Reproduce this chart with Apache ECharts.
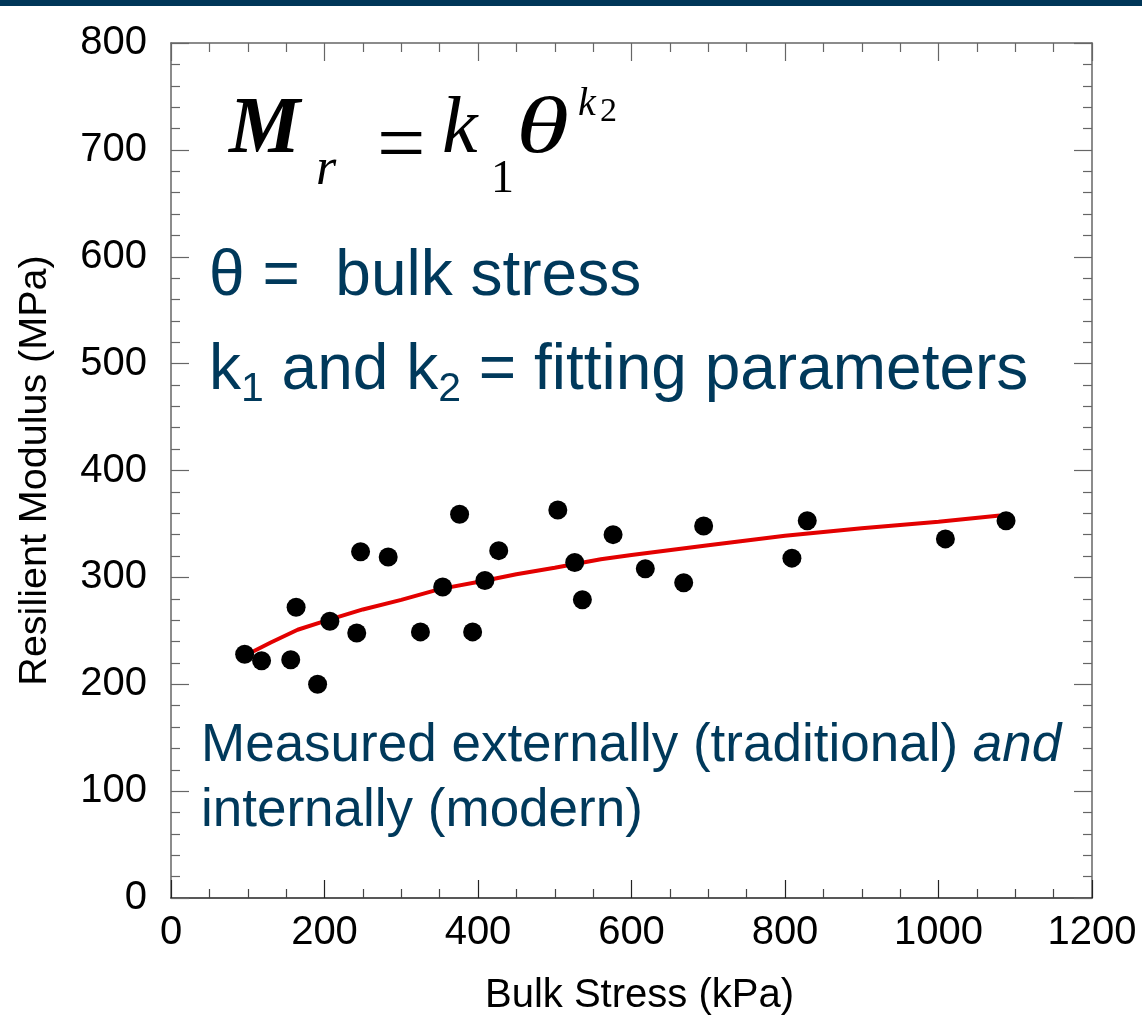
<!DOCTYPE html>
<html><head><meta charset="utf-8">
<script src="https://cdn.jsdelivr.net/npm/echarts@6/dist/echarts.min.js"></script>
<style>html,body{margin:0;padding:0;background:#fff}#c{width:1142px;height:1029px}</style>
</head><body><div id="c"></div>
<script>
// ---- data ----
const bulkStress = [96,118,156,163,191,207,242,247,283,325,354,376,393,409,427,504,526,536,576,618,668,694,809,829,1009,1088];
const resilientModulus = [228,222,223,272,200,259,248,324,319,249,291,359,249,297,325,363,314,279,340,308,295,348,318,353,336,353];
const fitStress = [105,130,165,200,250,300,350,410,450,500,560,600,700,800,900,1000,1080];
const fitModulus = [230,239,251,259,270,279,289,297,303,309,317,321,330,339,346,352,358];
const xRange = [0, 1200, 200];
const yRange = [0, 800, 100];
const xName = 'Bulk Stress (kPa)';
const yName = 'Resilient Modulus (MPa)';

// ---- build ----
const SANS = '"Liberation Sans", Arial, sans-serif';
const SERIF = '"Liberation Serif", "Times New Roman", serif';
const BLUE = '#00395B';
const scatterData = bulkStress.map((x, i) => [x, resilientModulus[i]]);
const fitData = fitStress.map((x, i) => [x, fitModulus[i]]);

function txt(t, x, baseline, size, family, opts) {
  opts = opts || {};
  const style = opts.style || 'normal', weight = opts.weight || 'normal';
  const mid = family === SERIF ? 0.3375 : 0.3465;
  const el = {
    type: 'text', x: x, y: baseline - mid * size, z: 100,
    style: {
      text: t, font: style + ' ' + weight + ' ' + size + 'px ' + family,
      fill: opts.color || BLUE, align: 'left', verticalAlign: 'middle',
      textAlign: 'left', textVerticalAlign: 'middle'
    }
  };
  if (opts.scaleX) el.scaleX = opts.scaleX;
  return el;
}
const mctx = document.createElement('canvas').getContext('2d');
function run(parts, x0, baseline) {
  let x = x0; const out = [];
  parts.forEach(p => {
    const st = p.style || 'normal', wt = p.weight || 'normal';
    mctx.font = st + ' ' + wt + ' ' + p.size + 'px ' + p.family;
    out.push(txt(p.t, x, baseline + (p.dy || 0), p.size, p.family, p));
    x += mctx.measureText(p.t).width;
  });
  return out;
}

const graphics = [
  { type: 'rect', shape: { x: 0, y: 0, width: 1142, height: 6 }, style: { fill: '#003658' }, z: 100 },
  // formula
  txt('M', 229, 158, 80, SERIF, { style: 'italic', weight: 'bold', color: '#000' }),
  txt('r', 316, 188, 52, SERIF, { style: 'italic', color: '#000' }),
  txt('=', 377, 178, 86, SERIF, { color: '#000' }),
  txt('k', 442, 158, 80, SERIF, { style: 'italic', color: '#000' }),
  txt('1', 491, 195, 46, SERIF, { color: '#000' }),
  txt('θ', 516, 158, 80, SERIF, { style: 'italic', color: '#000', scaleX: 1.35 }),
  txt('k', 578, 118, 40, SERIF, { style: 'italic', color: '#000' }),
  txt('2', 600, 124, 34, SERIF, { color: '#000' }),
  txt('θ =  bulk stress', 209, 300, 64, SANS)
].concat(run([
  { t: 'k', size: 64, family: SANS },
  { t: '1', size: 41, family: SANS, dy: 10 },
  { t: ' and k', size: 64, family: SANS },
  { t: '2', size: 41, family: SANS, dy: 10 },
  { t: ' = fitting parameters', size: 64, family: SANS }
], 209, 394)).concat(run([
  { t: 'Measured externally (traditional) ', size: 53, family: SANS },
  { t: 'and', size: 53, family: SANS, style: 'italic' }
], 201, 765)).concat([
  txt('internally (modern)', 201, 830, 53, SANS)
]);

const axisCommon = (color) => ({
  axisLine: { show: true, onZero: false, lineStyle: { color: color, width: 1.5 } },
  axisTick: { show: true, inside: true, length: 18, lineStyle: { color: color, width: 1.2 } },
  splitLine: { show: false }
});
const plain = v => String(v);

const chart = echarts.init(document.getElementById('c'), null, { renderer: 'canvas' });
chart.setOption({
  animation: false,
  backgroundColor: '#fff',
  grid: { left: 171, right: 50, top: 43, bottom: 131, containLabel: false },
  xAxis: [
    Object.assign({
      type: 'value', min: xRange[0], max: xRange[1], interval: xRange[2], position: 'bottom',
      name: xName, nameLocation: 'middle', nameGap: 78,
      nameTextStyle: { fontFamily: SANS, fontSize: 40, color: '#000', padding: [0, 0, 0, 16] },
      axisLabel: { fontFamily: SANS, fontSize: 40, color: '#000', margin: 15, formatter: plain },
      minorTick: { show: true, splitNumber: 4, length: 9, lineStyle: { color: '#444', width: 1.2 } }
    }, axisCommon('#222')),
    Object.assign({
      type: 'value', min: xRange[0], max: xRange[1], interval: xRange[2], position: 'top',
      axisLabel: { show: false },
      minorTick: { show: true, splitNumber: 4, length: 9, lineStyle: { color: '#666', width: 1.2 } }
    }, axisCommon('#666'))
  ],
  yAxis: [
    Object.assign({
      type: 'value', min: yRange[0], max: yRange[1], interval: yRange[2], position: 'left',
      name: yName, nameLocation: 'middle', nameGap: 116,
      nameTextStyle: { fontFamily: SANS, fontSize: 39.5, color: '#000' },
      axisLabel: { fontFamily: SANS, fontSize: 40, color: '#000', margin: 24, formatter: plain },
      minorTick: { show: true, splitNumber: 5, length: 9, lineStyle: { color: '#666', width: 1.2 } }
    }, axisCommon('#666')),
    Object.assign({
      type: 'value', min: yRange[0], max: yRange[1], interval: yRange[2], position: 'right',
      axisLabel: { show: false },
      minorTick: { show: true, splitNumber: 5, length: 9, lineStyle: { color: '#666', width: 1.2 } }
    }, axisCommon('#666'))
  ],
  series: [
    { type: 'line', data: fitData, xAxisIndex: 0, yAxisIndex: 0, showSymbol: false, symbol: 'none',
      lineStyle: { color: '#E30000', width: 4 }, z: 2 },
    { type: 'scatter', data: scatterData, xAxisIndex: 0, yAxisIndex: 0, symbol: 'circle', symbolSize: 19,
      itemStyle: { color: '#000', opacity: 1 }, z: 3 }
  ],
  graphic: graphics
});
</script></body></html>
